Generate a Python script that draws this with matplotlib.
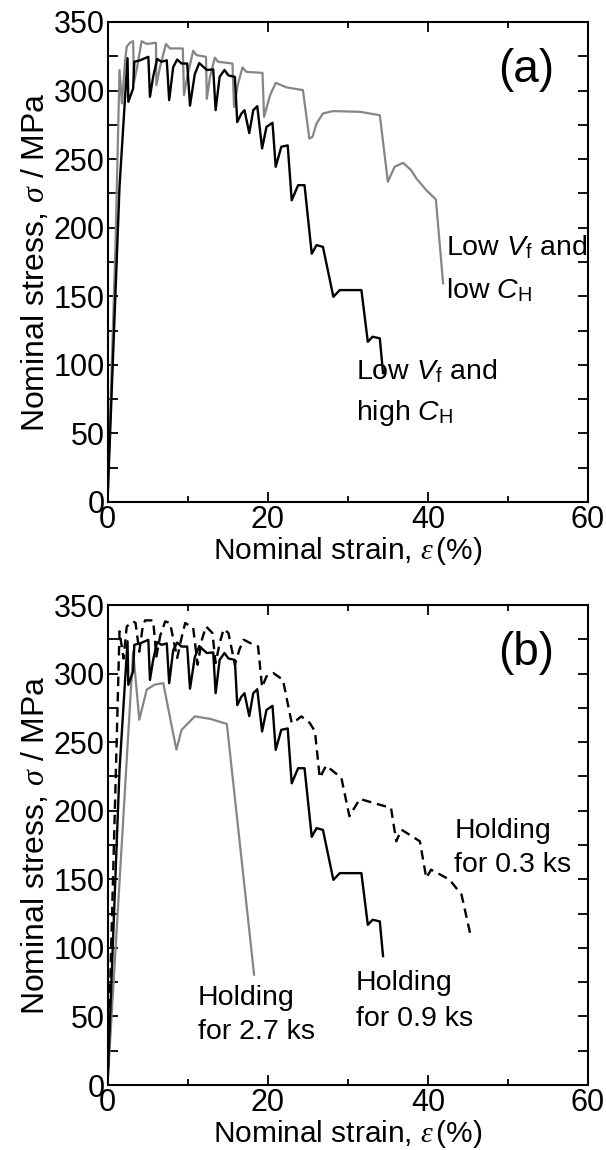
import matplotlib
matplotlib.use('Agg')
import matplotlib.pyplot as plt
from matplotlib.ticker import MultipleLocator

plt.rcParams['font.family'] = ['Liberation Sans', 'DejaVu Sans']
plt.rcParams['mathtext.fontset'] = 'custom'
plt.rcParams['mathtext.rm'] = 'Liberation Sans'
plt.rcParams['mathtext.sf'] = 'Liberation Sans:italic'
plt.rcParams['mathtext.it'] = 'Liberation Serif:italic'

# Low Vf, high CH  (= holding for 0.9 ks)
strain_09 = [0, 1.5, 2.5, 2.6, 3.2, 3.35, 4.05, 5.1, 5.3, 5.7, 6.2, 6.75, 7.4, 7.7, 8.2, 8.7,
             9.25, 9.95, 10.3, 10.9, 11.45, 12.4, 13.2, 13.5, 14.0, 14.6, 15.1, 15.9, 16.2, 16.7,
             17.1, 17.7, 18.2, 18.7, 19.3, 19.85, 20.6, 21.0, 21.7, 22.5, 23.0, 23.8, 24.6, 25.5,
             26.1, 26.9, 28.2, 29.0, 31.7, 32.5, 33.1, 34.0, 34.4]
stress_09 = [0, 230, 323.6, 291.8, 301.5, 321, 322, 324.6, 295.4, 310, 323, 321, 322, 293, 317, 322.6,
             319.7, 319.7, 289, 312, 320, 315, 315.4, 285.7, 310, 315, 311, 310, 277, 283,
             285.7, 269, 285.7, 288.6, 257.8, 273.5, 276.5, 244.4, 259, 260, 220, 231, 231, 181,
             187.3, 186, 149.6, 154.5, 154.5, 116.8, 120.5, 119.3, 94]

# Low Vf, low CH
strain_low = [0, 1.0, 1.5, 1.8, 2.2, 2.4, 2.8, 3.2, 3.3, 3.7, 4.25, 4.9, 6.05, 6.1, 6.55, 7.3,
              7.8, 9.4, 9.55, 9.95, 10.7, 11.1, 12.3, 12.4, 12.8, 13.4, 13.8, 15.6, 15.8, 16.3,
              16.85, 17.35, 19.35, 19.55, 20.3, 21.0, 22.35, 24.4, 25.2, 25.6, 26.1, 26.9, 28.15,
              31.5, 34.0, 35.0, 35.85, 36.9, 37.9, 38.55, 39.8, 41.0, 41.9]
stress_low = [0, 188, 315, 290.6, 322, 332, 334.8, 336, 306, 317, 336, 334, 334.8, 304, 317, 334,
              330.7, 330.7, 296.6, 310, 329, 325.8, 324.6, 294, 310, 324, 321, 319.7, 288, 305,
              316.8, 313.6, 312.9, 280.8, 296.6, 305.6, 302.3, 300.3, 265, 266.3, 276, 283.3, 285,
              284.5, 282, 233.5, 244.4, 247.3, 242, 236, 227.4, 220.6, 159.4]

# holding for 0.3 ks
strain_03 = [0, 1.15, 1.5, 2.0, 2.4, 3.2, 3.5, 3.97, 4.4, 4.7, 5.7, 6.1, 6.6, 7.2, 7.8, 8.7,
             9.2, 9.7, 10.7, 11.25, 11.8, 12.3, 13.1, 13.5, 14.0, 14.5, 15.1, 15.9, 16.5, 17.0,
             17.8, 18.8, 19.3, 19.85, 20.7, 21.9, 23.0, 23.6, 24.2, 25.25, 25.9, 26.5, 27.3, 29.2,
             30.2, 31.5, 35.4, 36.05, 36.7, 39.0, 39.8, 40.4, 42.7, 44.2, 45.4]
stress_03 = [0, 251.8, 330.8, 311, 334.4, 338, 337, 316, 334.4, 338.8, 338.8, 312.5, 328, 338, 337, 311.4,
             325, 336.9, 333.2, 306.5, 325, 334.4, 329.6, 307.7, 322, 332.5, 329.6, 306.5, 318, 324.7,
             322.3, 319.8, 290, 298, 300.4, 295.5, 264, 266, 268.8, 264, 257.9, 224, 232.9, 224,
             196, 208.6, 202, 177.7, 186.2, 177.7, 151, 157, 149.8, 138.8, 107.3]

# holding for 2.7 ks
strain_27 = [0, 3.2, 3.97, 4.9, 5.9, 6.96, 8.6, 9.25, 10.9, 12.8, 14.9, 18.3]
stress_27 = [0, 316, 266.4, 288.3, 292, 293, 244.5, 259, 268.8, 267, 263.3, 80.5]

gray = '#858585'
fs_tick = 22
fs_xlabel = 21.5
fs_ylabel = 23
fs_note = 20.5


def style_axes(ax):
    ax.set_xlim(0, 60)
    ax.set_ylim(0, 350)
    ax.xaxis.set_major_locator(MultipleLocator(20))
    ax.xaxis.set_minor_locator(MultipleLocator(10))
    ax.yaxis.set_major_locator(MultipleLocator(50))
    ax.yaxis.set_minor_locator(MultipleLocator(25))
    ax.tick_params(which='both', direction='in', top=True, right=True, width=1.3,
                   labelsize=fs_tick, pad=2)
    ax.tick_params(which='major', length=7)
    ax.tick_params(axis='x', which='minor', length=4)
    ax.tick_params(axis='y', which='minor', length=7)
    for s in ax.spines.values():
        s.set_linewidth(1.5)
    ax.set_xlabel(r'Nominal strain, $\varepsilon\,$(%)', fontsize=fs_xlabel, labelpad=0)
    ax.set_ylabel(r'Nominal stress, $\sigma$ / MPa', fontsize=fs_ylabel, labelpad=2)


fig = plt.figure(figsize=(6.06, 11.5), dpi=100)
ax1 = fig.add_axes([0.1774, 0.5635, 0.793, 0.4174])
ax2 = fig.add_axes([0.1774, 0.0565, 0.793, 0.4174])

# (a)
ax1.plot(strain_low, stress_low, color=gray, lw=1.6)
ax1.plot(strain_09, stress_09, color='black', lw=1.7)
style_axes(ax1)
ax1.text(52.3, 315, '(a)', fontsize=33, ha='center', va='center')
ax1.text(42.3, 180, r'Low $\mathsf{V}_{\rm f}$ and', fontsize=fs_note)
ax1.text(42.3, 149, r'low $\mathsf{C}_{\rm H}$', fontsize=fs_note)
ax1.text(31.0, 89.6, r'Low $\mathsf{V}_{\rm f}$ and', fontsize=fs_note)
ax1.text(31.0, 59.8, r'high $\mathsf{C}_{\rm H}$', fontsize=fs_note)

# (b)
ax2.plot(strain_27, stress_27, color=gray, lw=1.6)
ax2.plot(strain_09, stress_09, color='black', lw=1.7)
ax2.plot(strain_03, stress_03, color='black', lw=1.7, dashes=(4, 2.5))
style_axes(ax2)
ax2.text(52.3, 315, '(b)', fontsize=33, ha='center', va='center')
ax2.text(43.3, 180.2, 'Holding', fontsize=fs_note)
ax2.text(43.3, 155.4, 'for 0.3 ks', fontsize=fs_note)
ax2.text(31.0, 69.6, 'Holding', fontsize=fs_note)
ax2.text(31.0, 43.4, 'for 0.9 ks', fontsize=fs_note)
ax2.text(11.3, 58.7, 'Holding', fontsize=fs_note)
ax2.text(11.3, 33.2, 'for 2.7 ks', fontsize=fs_note)

fig.savefig('out.png', dpi=100)
